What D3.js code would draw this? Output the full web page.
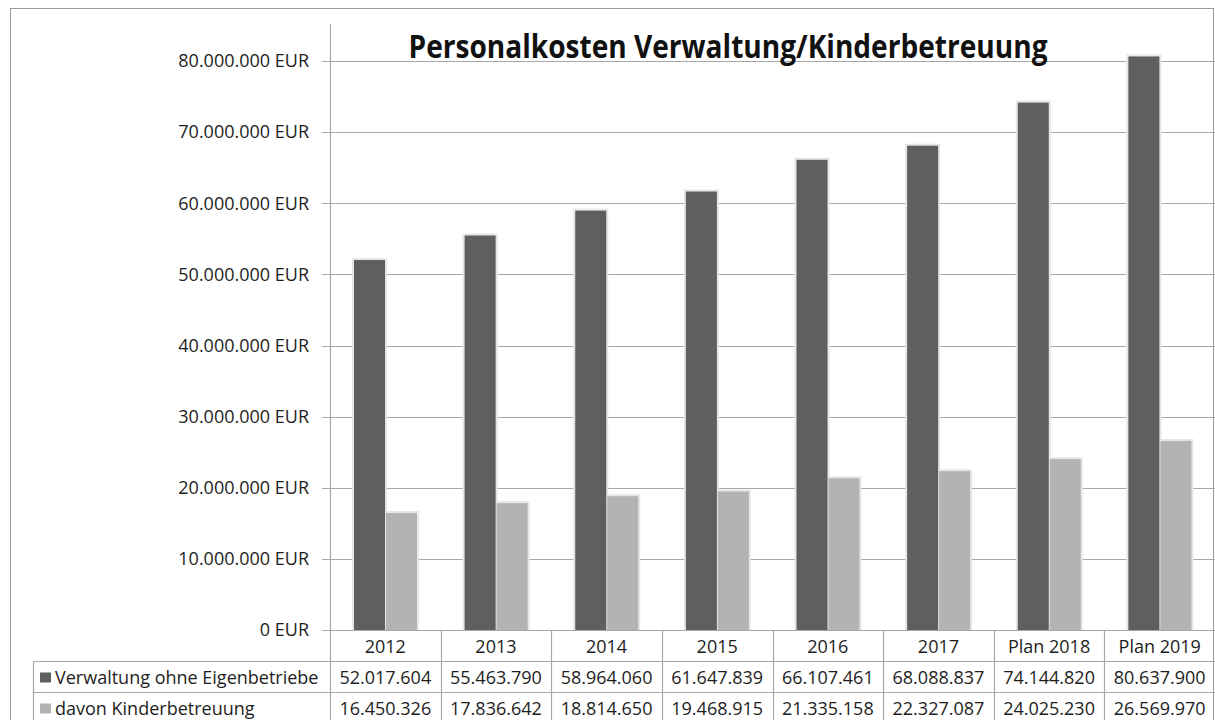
<!DOCTYPE html>
<meta charset="utf-8">
<body style="margin:0;background:#fff">
<script src="https://d3js.org/d3.v7.min.js"></script>
<script>

var years = ["2012", "2013", "2014", "2015", "2016", "2017", "Plan 2018", "Plan 2019"];
var verwaltung = [52017604, 55463790, 58964060, 61647839, 66107461, 68088837, 74144820, 80637900];
var kinder = [16450326, 17836642, 18814650, 19468915, 21335158, 22327087, 24025230, 26569970];
var seriesNames = ["Verwaltung ohne Eigenbetriebe", "davon Kinderbetreuung"];
var seriesColors = ["#5f5f5f", "#b3b3b3"];
var yTicks = [0, 10e6, 20e6, 30e6, 40e6, 50e6, 60e6, 70e6, 80e6];

var width = 1215, height = 720;
var plotLeft = 330, plotRight = 1215, plotTop = 61, plotBottom = 630;
var rowH = 31;
var font = "'Open Sans', sans-serif";
var gridColor = "#a8a8a8";

var de = d3.formatLocale({ decimal: ",", thousands: ".", grouping: [3], currency: ["", " EUR"] });
var fmt = de.format(",.0f");

var svg = d3.select("body").append("svg")
    .attr("width", width)
    .attr("height", height)
    .style("font-family", font);

// chart border
svg.append("rect")
    .attr("x", 10.5).attr("y", 8.5)
    .attr("width", 1203).attr("height", 730)
    .attr("fill", "none").attr("stroke", "#9a9a9a");

var x = d3.scaleBand().domain(years).range([plotLeft, plotRight]);
var x1 = d3.scaleBand().domain([0, 1]).range([24, 87]).paddingInner(0.03);
var y = d3.scaleLinear().domain([0, 80e6]).range([plotBottom, plotTop]);

// gridlines + ticks
svg.selectAll(".grid").data(yTicks).enter().append("line")
    .attr("x1", plotLeft - 8).attr("x2", plotRight)
    .attr("y1", function (d) { return Math.round(y(d)) + 0.5; })
    .attr("y2", function (d) { return Math.round(y(d)) + 0.5; })
    .attr("stroke", gridColor).attr("stroke-width", 1.2);

svg.selectAll(".ylab").data(yTicks).enter().append("text")
    .attr("x", 309).attr("y", function (d) { return y(d); })
    .attr("dy", "0.35em")
    .attr("text-anchor", "end")
    .attr("font-size", 18).attr("fill", "#1e1e1e")
    .text(function (d) { return fmt(d) + " EUR"; });

// bars
var rows = [verwaltung, kinder];
var g = svg.selectAll(".cat").data(years).enter().append("g")
    .attr("transform", function (d) { return "translate(" + x(d) + ",0)"; });

g.selectAll(".shadow").data(function (d, i) { return rows.map(function (r, k) { return { k: k, v: r[i] }; }); })
  .enter().append("rect")
    .attr("x", function (d) { return x1(d.k) - 2; })
    .attr("y", function (d) { return y(d.v) - 2; })
    .attr("width", x1.bandwidth() + 4)
    .attr("height", function (d) { return plotBottom - y(d.v) + 2; })
    .attr("fill", "#e6e6e6");

g.selectAll(".bar").data(function (d, i) { return rows.map(function (r, k) { return { k: k, v: r[i] }; }); })
  .enter().append("rect")
    .attr("x", function (d) { return x1(d.k); })
    .attr("y", function (d) { return y(d.v); })
    .attr("width", x1.bandwidth())
    .attr("height", function (d) { return plotBottom - y(d.v); })
    .attr("fill", function (d) { return seriesColors[d.k]; });

// y axis line
svg.append("line")
    .attr("x1", plotLeft + 0.5).attr("x2", plotLeft + 0.5)
    .attr("y1", 24).attr("y2", height)
    .attr("stroke", gridColor).attr("stroke-width", 1.2);

// data table
var tableLeft = 33;
[plotBottom + rowH, plotBottom + 2 * rowH].forEach(function (yy) {
    svg.append("line")
        .attr("x1", tableLeft).attr("x2", plotRight)
        .attr("y1", yy + 0.5).attr("y2", yy + 0.5)
        .attr("stroke", gridColor).attr("stroke-width", 1.2);
});
svg.append("line")
    .attr("x1", plotLeft).attr("x2", plotRight)
    .attr("y1", plotBottom + 0.5).attr("y2", plotBottom + 0.5)
    .attr("stroke", gridColor).attr("stroke-width", 1.2);
svg.append("line")
    .attr("x1", tableLeft + 0.5).attr("x2", tableLeft + 0.5)
    .attr("y1", plotBottom + rowH).attr("y2", height)
    .attr("stroke", gridColor).attr("stroke-width", 1.2);

svg.selectAll(".vsep").data(years.slice(1)).enter().append("line")
    .attr("x1", function (d) { return Math.round(x(d)) + 0.5; })
    .attr("x2", function (d) { return Math.round(x(d)) + 0.5; })
    .attr("y1", plotBottom).attr("y2", height)
    .attr("stroke", gridColor).attr("stroke-width", 1.2);

svg.selectAll(".head").data(years).enter().append("text")
    .attr("x", function (d) { return x(d) + x.bandwidth() / 2; })
    .attr("y", plotBottom + rowH / 2 + 1)
    .attr("dy", "0.35em").attr("text-anchor", "middle")
    .attr("font-size", 18).attr("fill", "#1e1e1e")
    .text(function (d) { return d; });

rows.forEach(function (r, k) {
    var cy = plotBottom + rowH * (k + 1) + rowH / 2 + 1;
    svg.append("rect")
        .attr("x", 40).attr("y", cy - 5)
        .attr("width", 11).attr("height", 10)
        .attr("fill", seriesColors[k]);
    svg.append("text")
        .attr("x", 55).attr("y", cy)
        .attr("dy", "0.35em")
        .attr("font-size", 18).attr("fill", "#1e1e1e")
        .text(seriesNames[k]);
    svg.selectAll(".v" + k).data(r).enter().append("text")
        .attr("x", function (d, i) { return x(years[i]) + x.bandwidth() / 2; })
        .attr("y", cy)
        .attr("dy", "0.35em").attr("text-anchor", "middle")
        .attr("font-size", 18).attr("fill", "#1e1e1e")
        .text(function (d) { return fmt(d); });
});

// title
svg.append("text")
    .attr("x", 728).attr("y", 58)
    .attr("text-anchor", "middle")
    .attr("font-size", 32).attr("font-weight", "bold").attr("fill", "#111")
    .attr("textLength", 639).attr("lengthAdjust", "spacingAndGlyphs")
    .text("Personalkosten Verwaltung/Kinderbetreuung");

</script>
</body>
